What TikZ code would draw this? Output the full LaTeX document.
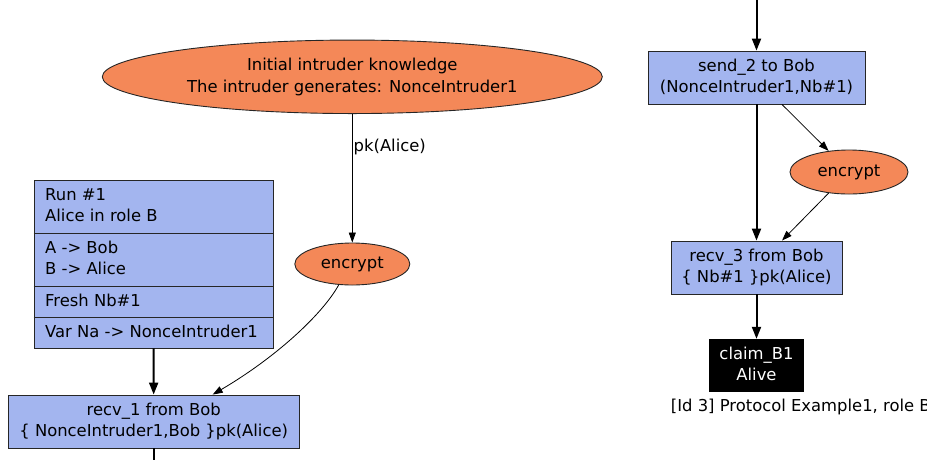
\documentclass[tikz,border=0pt]{standalone}
\usepackage{fontspec}
\setmainfont{DejaVu Sans}
\usetikzlibrary{arrows.meta,calc,shapes.geometric}
\definecolor{runblue}{RGB}{163,181,239}
\definecolor{introrange}{RGB}{244,136,88}
% fixed line extents so two-line labels centre the same way
\newcommand\hitop{\rule{0pt}{13pt}}
\newcommand\lobot{\rule[-4pt]{0pt}{4pt}}
\begin{document}
\begin{tikzpicture}[x=1pt,y=-1pt,
  every node/.style={font=\fontsize{16.4}{21.5}\selectfont, inner sep=0pt},
  eventbox/.style={draw=black!85, line width=0.9pt, fill=runblue, rectangle, align=center},
  knowbox/.style={draw=black!85, line width=0.9pt, fill=introrange, ellipse, align=center},
  claimbox/.style={fill=black, text=white, rectangle, align=center},
  flow/.style={line width=2pt, -{Triangle[length=12pt,width=9pt]}},
  termflow/.style={line width=0.8pt, -{Triangle[length=10pt,width=7pt]}},
  runline/.style={anchor=base west},
]
\useasboundingbox (0,0) rectangle (927,459);
\clip (0,0) rectangle (927,459);

% intruder knowledge
\node[knowbox, minimum width=500pt, minimum height=73.5pt] (init) at (352.3,76.8)
  {\hitop Initial intruder knowledge\\The intruder generates: NonceIntruder1\lobot};
\node[knowbox, minimum width=115pt, minimum height=42pt] (enc1) at (352.3,264) {encrypt};
\node[anchor=base west] (pklabel) at (353.5,151.5) {pk(Alice)};

% run header
\node[eventbox, minimum width=239pt, minimum height=168pt] (run) at (153.5,264) {};
\draw[black!85, line width=0.9pt] (run.west |- 0,233) -- (run.east |- 0,233)
  (run.west |- 0,286) -- (run.east |- 0,286)
  (run.west |- 0,317) -- (run.east |- 0,317);
\node[runline] (runid) at (45,200.7) {Run \#1};
\node[runline] (runrole) at (45,221.7) {Alice in role B};
\node[runline] (runA) at (45,253.3) {A -> Bob};
\node[runline] (runB) at (45,274.8) {B -> Alice};
\node[runline] (runfresh) at (45,306) {Fresh Nb\#1};
\node[runline] (runvar) at (45,337.3) {Var Na -> NonceIntruder1};

\node[eventbox, minimum width=291pt, minimum height=53pt] (recv1) at (153.7,421.5)
  {\hitop recv\_1 from Bob\\\{ NonceIntruder1,Bob \}pk(Alice)\lobot};

% role B run, right column
\node[eventbox, minimum width=217pt, minimum height=53pt] (send2) at (756.5,77.5)
  {\hitop send\_2 to Bob\\(NonceIntruder1,Nb\#1)\lobot};
\node[knowbox, minimum width=118pt, minimum height=44pt] (enc2) at (849,172) {encrypt};
\node[eventbox, minimum width=171pt, minimum height=53pt] (recv3) at (756.5,267.5)
  {\hitop recv\_3 from Bob\\\{ Nb\#1 \}pk(Alice)\lobot};
\node[claimbox, minimum width=95pt, minimum height=53pt] (claim) at (756.5,365.5)
  {\hitop claim\_B1\\Alive\lobot};
\node[anchor=base west] (caption) at (670.7,411.5) {[Id 3] Protocol Example1, role B};

% connectors
\coordinate (above) at (756.5,-5);
\coordinate (below) at (153.7,475);
\draw[flow] (above) -- (send2);
\draw[flow] (send2) -- (recv3);
\draw[flow] (recv3) -- (claim);
\draw[flow] (run) -- (recv1);
\draw[line width=2pt] (recv1) -- (below);

\draw[termflow] (init) -- (enc1);
\draw[termflow] (enc1.237) .. controls (322,315) and (275,358) .. ($(recv1.north)+(59,0)$);
\draw[termflow] ($(send2.south)+(25.5,0)$) -- (enc2.134);
\draw[termflow] (enc2.226) -- ($(recv3.north)+(25.5,0)$);
\end{tikzpicture}
\end{document}
